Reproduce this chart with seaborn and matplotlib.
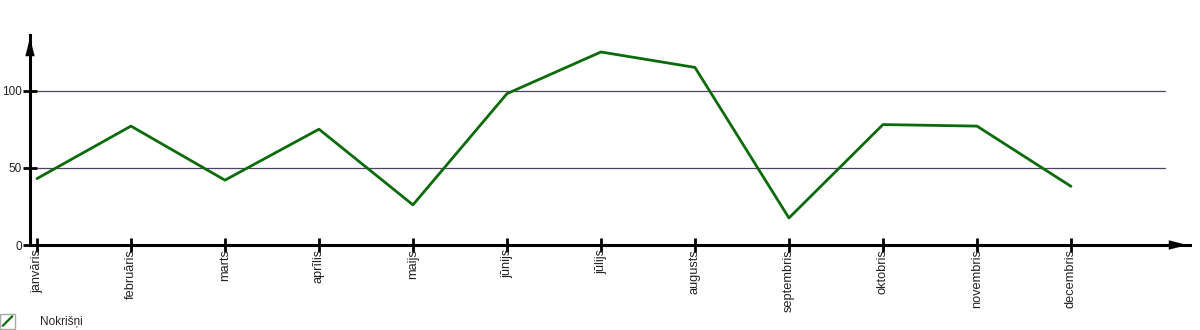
import matplotlib
matplotlib.use("Agg")
import matplotlib.pyplot as plt
import seaborn as sns
import pandas as pd
from matplotlib.legend_handler import HandlerBase
from matplotlib.patches import Rectangle
from matplotlib.lines import Line2D

months = ["janvāris", "februāris", "marts", "aprīlis", "maijs", "jūnijs",
          "jūlijs", "augusts", "septembris", "oktobris", "novembris", "decembris"]
precip = [43, 77, 42, 75, 26, 98, 125, 115, 17.5, 78, 77, 38]
series_name = "Nokrišņi"
yticks = [0, 50, 100]

sns.set_style("white")
plt.rcParams['font.family'] = ['Liberation Sans', 'DejaVu Sans']

df = pd.DataFrame({"x": list(range(len(months))), "y": precip})

W, H = 1200, 330
fig = plt.figure(figsize=(W / 100, H / 100), dpi=100)
left, right, top, bottom = 30, 1190, 35, 245
ax = fig.add_axes([left / W, 1 - bottom / H, (right - left) / W, (bottom - top) / H])

green = "#0b6b0b"
grid_c = "#4f4163"

# gridlines
x0 = -0.074
x1 = x0 + (right - left) / 94.0
for v in yticks[1:]:
    ax.plot([0, 12.0], [v, v], color=grid_c, lw=0.9, zorder=1)

sns.lineplot(data=df, x="x", y="y", ax=ax, color=green, lw=2.0, zorder=3, legend=False)

ax.set_xlim(x0, x1)
ax.set_ylim(0, 136)
ax.set_xticks(range(len(months)))
ax.set_xticklabels(months, rotation=90, fontsize=9.2, color="#222222")
ax.set_yticks(yticks)
ax.set_yticklabels([str(v) for v in yticks], fontsize=8.5, color="#222222")
ax.tick_params(axis="both", bottom=True, left=True, direction="inout", length=10,
               width=2, color="black")
ax.tick_params(axis="x", pad=-2)
ax.tick_params(axis="y", pad=1)
ax.set_xlabel("")
ax.set_ylabel("")
for s in ["top", "right"]:
    ax.spines[s].set_visible(False)
for s in ["left", "bottom"]:
    ax.spines[s].set_linewidth(2.2)
    ax.spines[s].set_color("black")

# arrowheads
ax.annotate("", xy=(1.0, 0), xytext=(0.98, 0), xycoords="axes fraction",
            arrowprops=dict(arrowstyle="-|>,head_length=1.3,head_width=0.33", color="black", lw=0.1),
            annotation_clip=False)
ax.annotate("", xy=(0, 1.0), xytext=(0, 0.9), xycoords="axes fraction",
            arrowprops=dict(arrowstyle="-|>,head_length=1.3,head_width=0.33", color="black", lw=0.1),
            annotation_clip=False)


class BoxLineHandler(HandlerBase):
    def create_artists(self, legend, orig_handle, xdescent, ydescent, width, height, fontsize, trans):
        s = width
        y0 = -ydescent + height / 2 - s / 2
        r = Rectangle((-xdescent, y0), s, s, fill=False,
                      edgecolor="#aaaaaa", lw=1, transform=trans)
        l = Line2D([-xdescent + 2, -xdescent + s - 2],
                   [y0 + 2, y0 + s - 2],
                   color=green, lw=1.6, transform=trans)
        return [r, l]


h = Line2D([], [], color=green)
fig.legend([h], [series_name], handler_map={Line2D: BoxLineHandler()},
           loc="lower left", bbox_to_anchor=(0.0, 2 / H), frameon=False,
           fontsize=8.5, handlelength=1.27, handleheight=1.27, handletextpad=2.1,
           borderaxespad=0.0, borderpad=0.0)

fig.savefig("out.png", dpi=100)
